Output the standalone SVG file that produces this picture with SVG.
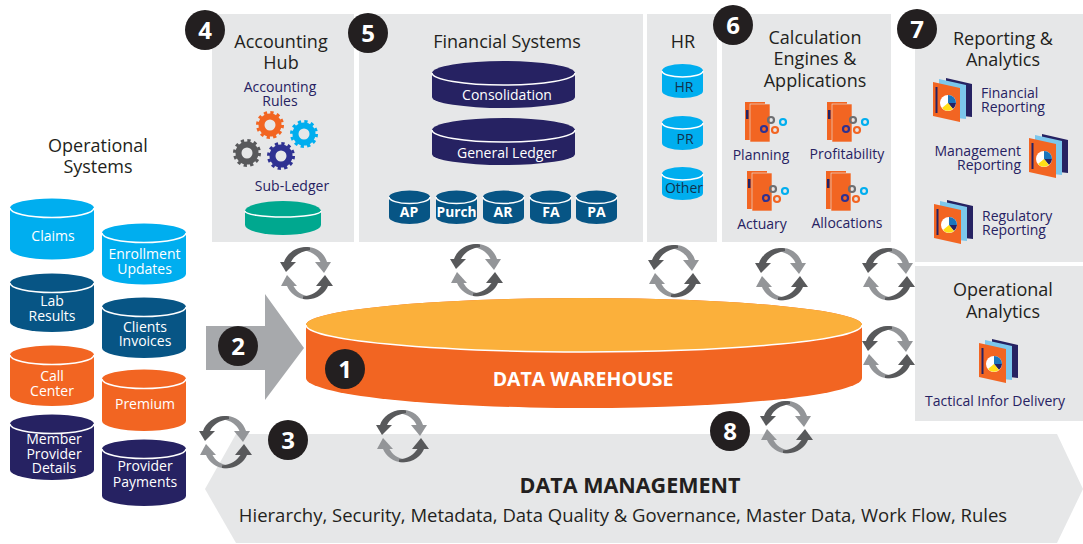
<svg xmlns="http://www.w3.org/2000/svg" xmlns:xlink="http://www.w3.org/1999/xlink" width="1083" height="544" viewBox="0 0 1083 544">
<style>
text{font-family:"Open Sans","Liberation Sans",sans-serif;text-anchor:middle}
.panel{fill:#E6E7E8}
.t{font-size:18px;fill:#231F20}
.s{font-size:14px;fill:#262262}
.w{font-size:14px;fill:#fff}
.b{font-size:14px;fill:#fff;font-weight:700}
.d{font-size:14px;fill:#12324D}
.st{text-anchor:start}.en{text-anchor:end}
.lip{fill:none;stroke:#fff;stroke-width:1.500}
.sky{fill:#00AEEF}.blue{fill:#075585}.org{fill:#F26522}.navy{fill:#262262}.teal{fill:#00A88F}
.badge circle{fill:#231F20}
.badge text{font-size:24px;font-weight:700;fill:#fff}
.dk{fill:#58595B}.gy{fill:#939598}
</style>
<defs>
<g id="cyc">
<path class="gy" d="M-3,-25.500C8,-28 18,-21 21,-11L14.500,-11C12,-17 6,-21.500 -3,-23Z"/>
<polygon class="gy" points="9,-11 25,-11 18,0"/>
<path class="dk" d="M4,-25.500C-8,-28 -19,-20 -22,-11L-15,-11C-12,-17 -6,-21.500 4,-23Z"/>
<polygon class="dk" points="-26,-11 -10,-11 -20,-1"/>
<path class="gy" d="M4,26C-6,28 -16,21 -19,13L-12.500,13C-10,18 -4,23 4,23.500Z"/>
<polygon class="gy" points="-25,13 -9,13 -19,2"/>
<path class="dk" d="M-3,26C9,28 19,21 22,13L15.500,13C12,18 6,23 -3,23.500Z"/>
<polygon class="dk" points="10,13 27,13 19,2"/>
</g>
<g id="gear">
<circle r="8.500" fill="none" stroke="currentColor" stroke-width="6"/>
<circle r="12.500" fill="none" stroke="currentColor" stroke-width="3" stroke-dasharray="3.270 3.270"/>
</g>
<g id="mini">
<circle r="3" fill="none" stroke="currentColor" stroke-width="2.200"/>
</g>
<g id="book">
<rect x="0" y="0" width="20" height="38" fill="#F26522"/>
<rect x="5" y="2" width="20" height="38" fill="#F26522" stroke="#E6E7E8" stroke-width=".6"/>
<rect x="1" y="8" width="2.500" height="9" fill="#262262"/>
<use xlink:href="#mini" x="26" y="18" color="#6D6E71"/>
<use xlink:href="#mini" x="38" y="20" color="#00AEEF"/>
<use xlink:href="#mini" x="19" y="27" color="#2E3192"/>
<use xlink:href="#mini" x="30" y="28" color="#F26522"/>
</g>
<g id="report">
<polygon points="13,0 39,6 39,39 13,36" fill="#262262"/>
<polygon points="6,1 33,7 33,41 6,38" fill="#7CC7EC"/>
<polygon points="0,4 27,10 27,44 0,38" fill="#F26522"/>
<rect x="2.500" y="9" width="2" height="26" fill="#262262"/>
<circle cx="15" cy="25" r="8" fill="#fff"/>
<path d="M15,25V17A8,8 0 0 1 23,25Z" fill="#1B75BC"/>
<path d="M15,25H23A8,8 0 0 1 20,31Z" fill="#262262"/>
<path d="M15,25L20,31A8,8 0 0 1 9,30Z" fill="#FFDE17"/>
</g>
</defs>
<rect width="1083" height="544" fill="#fff"/>

<g id="panels">
<rect class="panel" x="212" y="14" width="142" height="228"/>
<rect class="panel" x="359" y="14" width="284" height="228"/>
<rect class="panel" x="647" y="14" width="70" height="228"/>
<rect class="panel" x="722" y="14" width="169" height="228"/>
<rect class="panel" x="915" y="14" width="168" height="248"/>
<rect class="panel" x="915" y="266" width="168" height="155"/>
</g>

<g id="data-management">
<polygon class="panel" points="205,489 236,434 1057,434 1083,489 1057,543 236,543"/>
<text x="630" y="493" font-size="21.500" font-weight="700" fill="#231F20">DATA MANAGEMENT</text>
<text x="623" y="522" font-size="18.500" fill="#231F20">Hierarchy, Security, Metadata, Data Quality &amp; Governance, Master Data, Work Flow, Rules</text>
</g>

<g id="operational-systems">
<text class="t" y="152"><tspan x="98">Operational</tspan><tspan x="98" dy="21">Systems</tspan></text>
</g>
<g id="claims"><path class="sky" d="M10,208A42,9.500 0 0 1 94,208V249A42,10.500 0 0 1 10,249Z"/><path class="lip" d="M10,208A42,9.500 0 0 0 94,208"/><text class="w" x="53" y="241">Claims</text></g>
<g id="enrollment"><path class="sky" d="M102,233A42,9.500 0 0 1 186,233V274A42,10.500 0 0 1 102,274Z"/><path class="lip" d="M102,233A42,9.500 0 0 0 186,233"/><text class="w" y="259"><tspan x="144.500">Enrollment</tspan><tspan x="144.500" dy="15">Updates</tspan></text></g>
<g id="lab"><path class="blue" d="M10,283A42,9.500 0 0 1 94,283V322A42,10 0 0 1 10,322Z"/><path class="lip" d="M10,283A42,9.500 0 0 0 94,283"/><text class="w" y="306"><tspan x="52">Lab</tspan><tspan x="52" dy="15">Results</tspan></text></g>
<g id="clients"><path class="blue" d="M102,307A42,9.500 0 0 1 186,307V348A42,10 0 0 1 102,348Z"/><path class="lip" d="M102,307A42,9.500 0 0 0 186,307"/><text class="w" y="332"><tspan x="145">Clients</tspan><tspan x="145" dy="14">Invoices</tspan></text></g>
<g id="call"><path class="org" d="M10,355A42,9.500 0 0 1 94,355V396A42,10 0 0 1 10,396Z"/><path class="lip" d="M10,355A42,9.500 0 0 0 94,355"/><text class="w" y="381"><tspan x="52">Call</tspan><tspan x="52" dy="15">Center</tspan></text></g>
<g id="premium"><path class="org" d="M102,379A42,9.500 0 0 1 186,379V421A42,10 0 0 1 102,421Z"/><path class="lip" d="M102,379A42,9.500 0 0 0 186,379"/><text class="w" x="145" y="409">Premium</text></g>
<g id="member"><path class="navy" d="M10,424A42,9.500 0 0 1 94,424V470A42,10 0 0 1 10,470Z"/><path class="lip" d="M10,424A42,9.500 0 0 0 94,424"/><text class="w" y="444"><tspan x="54">Member</tspan><tspan x="54" dy="15">Provider</tspan><tspan x="54" dy="14">Details</tspan></text></g>
<g id="provider"><path class="navy" d="M102,449A42,9.500 0 0 1 186,449V496A42,10 0 0 1 102,496Z"/><path class="lip" d="M102,449A42,9.500 0 0 0 186,449"/><text class="w" y="471"><tspan x="145">Provider</tspan><tspan x="145" dy="16">Payments</tspan></text></g>

<g id="arrow-2"><polygon points="206,326 265,326 265,294 304,348 265,400 265,370 206,370" fill="#A7A9AC"/></g>

<g id="accounting-hub">
<text class="t" y="48"><tspan x="281">Accounting</tspan><tspan x="281" dy="21">Hub</tspan></text>
<text class="s" y="92"><tspan x="280">Accounting</tspan><tspan x="280" dy="14">Rules</tspan></text>
<use xlink:href="#gear" x="270" y="125" color="#F26522"/>
<use xlink:href="#gear" x="304" y="134" color="#00AEEF"/>
<use xlink:href="#gear" x="247" y="153" color="#58595B"/>
<use xlink:href="#gear" x="281" y="156" color="#2E3192"/>
<text class="s" x="292" y="191">Sub-Ledger</text>
<path class="teal" d="M245,211A38,10 0 0 1 321,211V225A38,10 0 0 1 245,225Z"/><path class="lip" d="M245,211A38,6 0 0 0 321,211"/>
</g>

<g id="financial-systems">
<text class="t" x="507" y="48">Financial Systems</text>
<g id="consolidation"><path class="navy" d="M432,73A71.500,12 0 0 1 575,73V97A71.500,11 0 0 1 432,97Z"/><path class="lip" d="M432,73A71.500,12 0 0 0 575,73"/><text class="w" x="507" y="100">Consolidation</text></g>
<g id="general-ledger"><path class="navy" d="M432,130A71.500,12 0 0 1 575,130V154A71.500,11 0 0 1 432,154Z"/><path class="lip" d="M432,130A71.500,12 0 0 0 575,130"/><text class="w" x="507" y="158">General Ledger</text></g>
<g id="ap"><path class="blue" d="M389,197A20.500,6.500 0 0 1 430,197V217A20.500,7 0 0 1 389,217Z"/><path class="lip" d="M389,197A20.500,6.500 0 0 0 430,197"/><text class="b" x="409" y="217">AP</text></g>
<g id="purch"><path class="blue" d="M436,197A20.500,6.500 0 0 1 477,197V217A20.500,7 0 0 1 436,217Z"/><path class="lip" d="M436,197A20.500,6.500 0 0 0 477,197"/><text class="b" x="456.500" y="217" textLength="40" lengthAdjust="spacingAndGlyphs">Purch</text></g>
<g id="ar"><path class="blue" d="M483,197A20.500,6.500 0 0 1 524,197V217A20.500,7 0 0 1 483,217Z"/><path class="lip" d="M483,197A20.500,6.500 0 0 0 524,197"/><text class="b" x="503" y="217">AR</text></g>
<g id="fa"><path class="blue" d="M530,197A20.500,6.500 0 0 1 571,197V217A20.500,7 0 0 1 530,217Z"/><path class="lip" d="M530,197A20.500,6.500 0 0 0 571,197"/><text class="b" x="551" y="217">FA</text></g>
<g id="pa"><path class="blue" d="M576,197A20.500,6.500 0 0 1 617,197V217A20.500,7 0 0 1 576,217Z"/><path class="lip" d="M576,197A20.500,6.500 0 0 0 617,197"/><text class="b" x="596.500" y="217">PA</text></g>
</g>

<g id="hr">
<text class="t" x="683" y="48">HR</text>
<path class="sky" d="M662,71A20.500,7 0 0 1 703,71V91A20.500,7 0 0 1 662,91Z"/><path class="lip" d="M662,71A20.500,6 0 0 0 703,71"/><text class="d" x="684" y="92">HR</text>
<path class="sky" d="M662,123A20.500,7 0 0 1 703,123V143A20.500,7 0 0 1 662,143Z"/><path class="lip" d="M662,123A20.500,6 0 0 0 703,123"/><text class="d" x="685" y="144">PR</text>
<path class="sky" d="M662,174A20.500,7 0 0 1 703,174V193A20.500,7 0 0 1 662,193Z"/><path class="lip" d="M662,174A20.500,6 0 0 0 703,174"/><text class="d" x="684" y="193" font-size="13">Other</text>
</g>

<g id="calculation-engines">
<text class="t" y="44"><tspan x="815">Calculation</tspan><tspan x="815" dy="21">Engines &amp;</tspan><tspan x="815" dy="22">Applications</tspan></text>
<use xlink:href="#book" x="745" y="102"/><text class="s" x="761" y="160">Planning</text>
<use xlink:href="#book" x="827" y="102"/><text class="s" x="847" y="159">Profitability</text>
<use xlink:href="#book" x="747" y="171"/><text class="s" x="762" y="229">Actuary</text>
<use xlink:href="#book" x="826" y="171"/><text class="s" x="847" y="228">Allocations</text>
</g>

<g id="reporting-analytics">
<text class="t" y="45"><tspan x="1003">Reporting &amp;</tspan><tspan x="1003" dy="21">Analytics</tspan></text>
<use xlink:href="#report" x="933" y="78"/>
<text class="s st" y="98"><tspan x="981">Financial</tspan><tspan x="981" dy="14">Reporting</tspan></text>
<use xlink:href="#report" x="1029" y="134"/>
<text class="s en" y="156"><tspan x="1021">Management</tspan><tspan x="1021" dy="14">Reporting</tspan></text>
<use xlink:href="#report" x="934" y="200"/>
<text class="s st" y="221"><tspan x="982">Regulatory</tspan><tspan x="982" dy="14">Reporting</tspan></text>
</g>

<g id="operational-analytics">
<text class="t" y="296"><tspan x="1003">Operational</tspan><tspan x="1003" dy="22">Analytics</tspan></text>
<use xlink:href="#report" x="979" y="339"/>
<text class="s" x="995" y="406">Tactical Infor Delivery</text>
</g>

<g id="data-warehouse">
<path class="org" d="M306,325A278,27 0 0 1 862,325V378A278,30 0 0 1 306,378Z"/>
<ellipse cx="584" cy="325" rx="278" ry="27" fill="#FBB03B"/>
<path class="lip" d="M306,325A278,27 0 0 0 862,325"/>
<text x="583" y="386" font-size="19.500" font-weight="700" fill="#fff">DATA WAREHOUSE</text>
</g>

<g id="connectors">
<use xlink:href="#cyc" x="306" y="273"/>
<use xlink:href="#cyc" x="476" y="270"/>
<use xlink:href="#cyc" x="674" y="271"/>
<use xlink:href="#cyc" x="781" y="274"/>
<use xlink:href="#cyc" x="888" y="274"/>
<use xlink:href="#cyc" x="888" y="352"/>
<use xlink:href="#cyc" x="786" y="427"/>
<use xlink:href="#cyc" x="225" y="442"/>
<use xlink:href="#cyc" x="402" y="436"/>
</g>

<g id="badge-1" class="badge"><circle cx="345" cy="369" r="20"/><text x="345" y="378">1</text></g>
<g id="badge-2" class="badge"><circle cx="238" cy="346" r="20"/><text x="238" y="355">2</text></g>
<g id="badge-3" class="badge"><circle cx="288" cy="440" r="20"/><text x="288" y="449">3</text></g>
<g id="badge-4" class="badge"><circle cx="205" cy="30" r="20"/><text x="205" y="39">4</text></g>
<g id="badge-5" class="badge"><circle cx="368" cy="33" r="20"/><text x="368" y="42">5</text></g>
<g id="badge-6" class="badge"><circle cx="733" cy="25" r="20"/><text x="733" y="34">6</text></g>
<g id="badge-7" class="badge"><circle cx="917" cy="29" r="20"/><text x="917" y="38">7</text></g>
<g id="badge-8" class="badge"><circle cx="730" cy="431" r="20"/><text x="730" y="440">8</text></g>
</svg>
